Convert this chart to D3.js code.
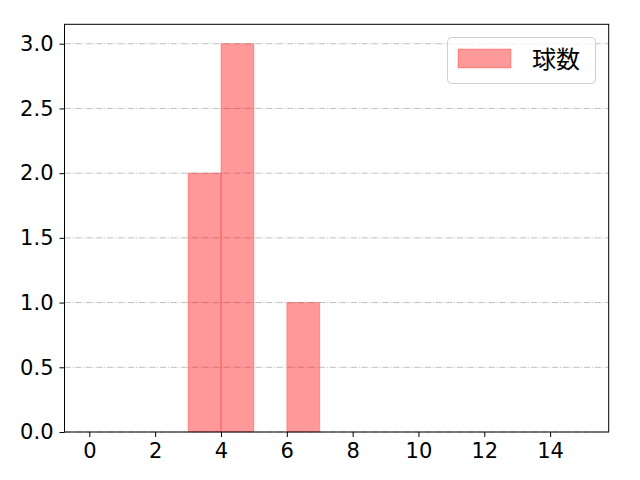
<!DOCTYPE html>
<html>
  <head>
    <meta http-equiv="Content-type" content="text/html; charset=utf-8"/>
    <script src="https://d3js.org/d3.v7.min.js"></script>
    <style>
      body{ margin:0; background:#fff; }
      svg text{ font-family: "Noto Sans CJK JP", "DejaVu Sans", sans-serif; }
    </style>
  </head>
  <body>
    <svg width="640" height="480"></svg>
    <script>
      // bins (left edge, right edge) and counts
      var binStarts = [3, 4, 6];
      var binEnds = [4, 5, 7];
      var counts = [2, 3, 1];
      var xTicks = [0, 2, 4, 6, 8, 10, 12, 14];
      var yTicks = [0, 0.5, 1.0, 1.5, 2.0, 2.5, 3.0];
      var seriesName = "球数";

      var svg = d3.select("svg"),
          plotLeft = 64.5, plotRight = 608.7, plotTop = 24.3, plotBottom = 432;

      var x = d3.scaleLinear().domain([-0.754, 15.78]).range([plotLeft, plotRight]);
      var y = d3.scaleLinear().domain([0, 3.15]).range([plotBottom, plotTop]);

      // grid
      svg.append("g")
        .selectAll("line")
        .data(yTicks)
        .enter().append("line")
          .attr("x1", plotLeft).attr("x2", plotRight)
          .attr("y1", function(d){ return y(d); })
          .attr("y2", function(d){ return y(d); })
          .attr("stroke", "#b0b0b0")
          .attr("stroke-width", 0.8)
          .attr("stroke-dasharray", "6.4,1.6,1,1.6");

      // bars
      svg.append("g")
        .selectAll("rect")
        .data(counts)
        .enter().append("rect")
          .attr("x", function(d, i){ return x(binStarts[i]); })
          .attr("width", function(d, i){ return x(binEnds[i]) - x(binStarts[i]); })
          .attr("y", function(d){ return y(d); })
          .attr("height", function(d){ return y(0) - y(d); })
          .attr("fill", "rgba(255,0,0,0.4)")
          .attr("stroke", "rgba(255,0,0,0.25)")
          .attr("stroke-width", 1);

      // axes
      var xAxis = svg.append("g")
          .attr("transform", "translate(0," + plotBottom + ")")
          .call(d3.axisBottom(x).tickValues(xTicks).tickSize(5).tickPadding(6)
                .tickFormat(d3.format("d")));
      var yAxis = svg.append("g")
          .attr("transform", "translate(" + plotLeft + ",0)")
          .call(d3.axisLeft(y).tickValues(yTicks).tickSize(5).tickPadding(6)
                .tickFormat(d3.format(".1f")));
      [xAxis, yAxis].forEach(function(a){
        a.select(".domain").remove();
        a.selectAll("line").attr("stroke", "#000").attr("stroke-width", 1);
        a.selectAll("text").attr("font-size", 21).attr("fill", "#000")
          .style("font-family", "'DejaVu Sans', sans-serif");
      });

      // frame
      svg.append("rect")
        .attr("x", plotLeft).attr("y", plotTop)
        .attr("width", plotRight - plotLeft).attr("height", plotBottom - plotTop)
        .attr("fill", "none").attr("stroke", "#000").attr("stroke-width", 1);

      // legend
      var lg = svg.append("g");
      lg.append("rect")
        .attr("x", 447.5).attr("y", 37.5).attr("width", 148).attr("height", 46)
        .attr("rx", 4)
        .attr("fill", "rgba(255,255,255,0.8)").attr("stroke", "#d0d0d0");
      lg.append("rect")
        .attr("x", 458).attr("y", 49).attr("width", 53).attr("height", 19)
        .attr("fill", "rgba(255,0,0,0.4)").attr("stroke", "rgba(255,0,0,0.25)");
      lg.append("text")
        .attr("x", 532).attr("y", 68)
        .attr("font-size", 24).attr("fill", "#000")
        .text(seriesName);
    </script>
  </body>
</html>
